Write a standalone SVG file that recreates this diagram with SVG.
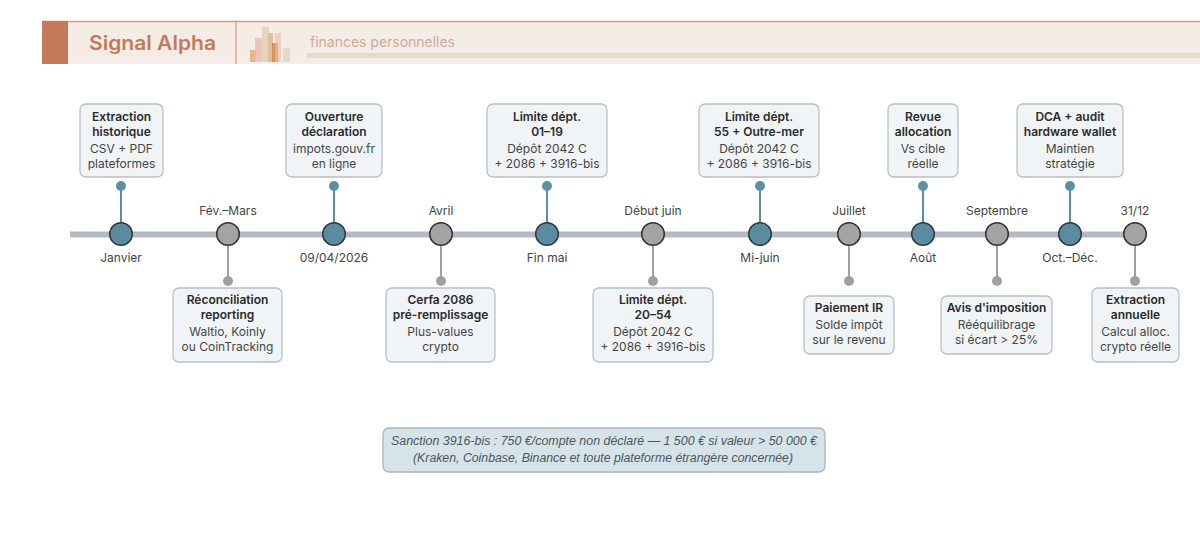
<svg xmlns="http://www.w3.org/2000/svg" width="1200" height="541" viewBox="0 0 1200 541">
<style>
.box{fill:#f0f4f7;stroke:#b7c0c8;stroke-width:1.3}
.t{font-family:Inter,"Liberation Sans",sans-serif;font-size:12px;font-weight:600;fill:#2a2a2a;text-anchor:middle}
.s{font-family:Inter,"Liberation Sans",sans-serif;font-size:12px;fill:#454545;text-anchor:middle}
.lbl{font-family:Inter,"Liberation Sans",sans-serif;font-size:12px;fill:#444;text-anchor:middle}
.nt{fill:#5b8b9f;stroke:#2e3a40;stroke-width:1.5}
.ng{fill:#a3a3a3;stroke:#333;stroke-width:1.5}
.st{stroke:#5b8fa3;stroke-width:2}
.sg{stroke:#a0a0a0;stroke-width:2}
.dt{fill:#5b8fa3}
.dg{fill:#a0a0a0}
.note{font-family:"Liberation Sans",Arial,sans-serif;font-size:12px;font-style:italic;fill:#4b5660;text-anchor:middle}
</style>
<rect width="1200" height="541" fill="#ffffff"/>
<g id="header">
<rect x="42" y="21" width="1158" height="43" fill="#f6ece6"/>
<rect x="42" y="58" width="1158" height="6" fill="#f8ecea"/>
<line x1="42" y1="21.5" x2="1200" y2="21.5" stroke="#d9977a" stroke-width="1.5"/>
<rect x="42" y="21" width="26" height="43" fill="#c47a5a"/>
<line x1="236" y1="21" x2="236" y2="64" stroke="#d9977a" stroke-width="1.2"/>
<text x="89" y="50" font-family="Inter,'Liberation Sans',sans-serif" font-size="20" font-weight="600" fill="#c47a5a" textLength="127" lengthAdjust="spacingAndGlyphs">Signal Alpha</text>
<g id="logo">
<rect x="250" y="50" width="6" height="12" fill="#e2a878" fill-opacity="0.8"/>
<rect x="255" y="38" width="7" height="24" fill="#e8bcb4" fill-opacity="0.8"/>
<rect x="262" y="27" width="7" height="35" fill="#e2d3bd" fill-opacity="0.9"/>
<rect x="268" y="33" width="5" height="29" fill="#d9b48e" fill-opacity="0.8"/>
<rect x="272" y="43" width="6" height="19" fill="#d48a40" fill-opacity="0.85"/>
<rect x="275" y="33" width="6" height="29" fill="#e8bcb4" fill-opacity="0.6"/>
<rect x="283" y="48" width="7" height="14" fill="#e5d9c9"/>
</g>
<text x="310" y="47" font-family="Inter,'Liberation Sans',sans-serif" font-size="14.5" fill="#c9ad98" textLength="145" lengthAdjust="spacingAndGlyphs">finances personnelles</text>
<rect x="307" y="53" width="893" height="5" fill="#e5d9cc"/>
</g>
<g id="connectors">
<line x1="70" y1="234.5" x2="1135" y2="234.5" stroke="#b5bac2" stroke-width="6"/>
<line class="st" x1="121" y1="187" x2="121" y2="223"/><circle class="dt" cx="121" cy="186" r="5"/>
<line class="st" x1="334" y1="187" x2="334" y2="223"/><circle class="dt" cx="334" cy="186" r="5"/>
<line class="st" x1="547" y1="187" x2="547" y2="223"/><circle class="dt" cx="547" cy="186" r="5"/>
<line class="st" x1="760" y1="187" x2="760" y2="223"/><circle class="dt" cx="760" cy="186" r="5"/>
<line class="st" x1="923" y1="187" x2="923" y2="223"/><circle class="dt" cx="923" cy="186" r="5"/>
<line class="st" x1="1070" y1="187" x2="1070" y2="223"/><circle class="dt" cx="1070" cy="186" r="5"/>
<line class="sg" x1="228" y1="246" x2="228" y2="280"/><circle class="dg" cx="228" cy="281" r="5"/>
<line class="sg" x1="441" y1="246" x2="441" y2="280"/><circle class="dg" cx="441" cy="281" r="5"/>
<line class="sg" x1="653" y1="246" x2="653" y2="280"/><circle class="dg" cx="653" cy="281" r="5"/>
<line class="sg" x1="849" y1="246" x2="849" y2="280"/><circle class="dg" cx="849" cy="281" r="5"/>
<line class="sg" x1="997" y1="246" x2="997" y2="280"/><circle class="dg" cx="997" cy="281" r="5"/>
<line class="sg" x1="1135" y1="246" x2="1135" y2="280"/><circle class="dg" cx="1135" cy="281" r="5"/>
</g>
<g id="n-janvier">
<circle class="nt" cx="121" cy="234" r="11.3"/>
<text class="lbl" x="121" y="262">Janvier</text>
<rect class="box" x="80" y="104" width="83" height="73" rx="6"/>
<text class="t" x="121.5" y="121">Extraction</text>
<text class="t" x="121.5" y="135.5">historique</text>
<text class="s" x="121.5" y="153">CSV + PDF</text>
<text class="s" x="121.5" y="168">plateformes</text>
</g>
<g id="n-fevmars">
<circle class="ng" cx="228" cy="234" r="11.3"/>
<text class="lbl" x="228" y="215">Fév.–Mars</text>
<rect class="box" x="173" y="288" width="109" height="74" rx="6"/>
<text class="t" x="227.5" y="304">Réconciliation</text>
<text class="t" x="227.5" y="318.5">reporting</text>
<text class="s" x="227.5" y="335.5">Waltio, Koinly</text>
<text class="s" x="227.5" y="351">ou CoinTracking</text>
</g>
<g id="n-0904">
<circle class="nt" cx="334" cy="234" r="11.3"/>
<text class="lbl" x="334" y="262">09/04/2026</text>
<rect class="box" x="286" y="104" width="96" height="73" rx="6"/>
<text class="t" x="334" y="121">Ouverture</text>
<text class="t" x="334" y="135.5">déclaration</text>
<text class="s" x="334" y="153">impots.gouv.fr</text>
<text class="s" x="334" y="168">en ligne</text>
</g>
<g id="n-avril">
<circle class="ng" cx="441" cy="234" r="11.3"/>
<text class="lbl" x="441" y="215">Avril</text>
<rect class="box" x="386" y="288" width="109" height="74" rx="6"/>
<text class="t" x="440.5" y="304">Cerfa 2086</text>
<text class="t" x="440.5" y="318.5">pré-remplissage</text>
<text class="s" x="440.5" y="335.5">Plus-values</text>
<text class="s" x="440.5" y="351">crypto</text>
</g>
<g id="n-finmai">
<circle class="nt" cx="547" cy="234" r="11.3"/>
<text class="lbl" x="547" y="262">Fin mai</text>
<rect class="box" x="487" y="104" width="120" height="73" rx="6"/>
<text class="t" x="547" y="121">Limite dépt.</text>
<text class="t" x="547" y="135.5">01–19</text>
<text class="s" x="547" y="153">Dépôt 2042 C</text>
<text class="s" x="547" y="168">+ 2086 + 3916-bis</text>
</g>
<g id="n-debutjuin">
<circle class="ng" cx="653" cy="234" r="11.3"/>
<text class="lbl" x="653" y="215">Début juin</text>
<rect class="box" x="593" y="288" width="120" height="74" rx="6"/>
<text class="t" x="653" y="304">Limite dépt.</text>
<text class="t" x="653" y="318.5">20–54</text>
<text class="s" x="653" y="335.5">Dépôt 2042 C</text>
<text class="s" x="653" y="351">+ 2086 + 3916-bis</text>
</g>
<g id="n-mijuin">
<circle class="nt" cx="760" cy="234" r="11.3"/>
<text class="lbl" x="760" y="262">Mi-juin</text>
<rect class="box" x="699" y="104" width="120" height="73" rx="6"/>
<text class="t" x="759" y="121">Limite dépt.</text>
<text class="t" x="759" y="135.5">55 + Outre-mer</text>
<text class="s" x="759" y="153">Dépôt 2042 C</text>
<text class="s" x="759" y="168">+ 2086 + 3916-bis</text>
</g>
<g id="n-juillet">
<circle class="ng" cx="849" cy="234" r="11.3"/>
<text class="lbl" x="849" y="215">Juillet</text>
<rect class="box" x="804" y="296" width="90" height="58" rx="6"/>
<text class="t" x="849" y="312">Paiement IR</text>
<text class="s" x="849" y="329">Solde impôt</text>
<text class="s" x="849" y="344">sur le revenu</text>
</g>
<g id="n-aout">
<circle class="nt" cx="923" cy="234" r="11.3"/>
<text class="lbl" x="923" y="262">Août</text>
<rect class="box" x="888" y="104" width="70" height="73" rx="6"/>
<text class="t" x="923" y="121">Revue</text>
<text class="t" x="923" y="135.5">allocation</text>
<text class="s" x="923" y="153">Vs cible</text>
<text class="s" x="923" y="168">réelle</text>
</g>
<g id="n-septembre">
<circle class="ng" cx="997" cy="234" r="11.3"/>
<text class="lbl" x="997" y="215">Septembre</text>
<rect class="box" x="941" y="296" width="111" height="58" rx="6"/>
<text class="t" x="996.5" y="312">Avis d'imposition</text>
<text class="s" x="996.5" y="329">Rééquilibrage</text>
<text class="s" x="996.5" y="344">si écart &gt; 25%</text>
</g>
<g id="n-octdec">
<circle class="nt" cx="1070" cy="234" r="11.3"/>
<text class="lbl" x="1070" y="262">Oct.–Déc.</text>
<rect class="box" x="1017" y="104" width="106" height="73" rx="6"/>
<text class="t" x="1070" y="121">DCA + audit</text>
<text class="t" x="1070" y="135.5">hardware wallet</text>
<text class="s" x="1070" y="153">Maintien</text>
<text class="s" x="1070" y="168">stratégie</text>
</g>
<g id="n-3112">
<circle class="ng" cx="1135" cy="234" r="11.3"/>
<text class="lbl" x="1135" y="215">31/12</text>
<rect class="box" x="1092" y="288" width="87" height="74" rx="6"/>
<text class="t" x="1135.5" y="304">Extraction</text>
<text class="t" x="1135.5" y="318.5">annuelle</text>
<text class="s" x="1135.5" y="335.5">Calcul alloc.</text>
<text class="s" x="1135.5" y="351">crypto réelle</text>
</g>
<g id="note">
<rect x="383" y="428" width="442" height="44" rx="6" fill="#d6e4ea" stroke="#a7b5bd" stroke-width="1.3"/>
<text class="note" x="604" y="445" textLength="426" lengthAdjust="spacingAndGlyphs">Sanction 3916-bis : 750 €/compte non déclaré — 1 500 € si valeur &gt; 50 000 €</text>
<text class="note" x="603" y="462" textLength="380" lengthAdjust="spacingAndGlyphs">(Kraken, Coinbase, Binance et toute plateforme étrangère concernée)</text>
</g>
</svg>
